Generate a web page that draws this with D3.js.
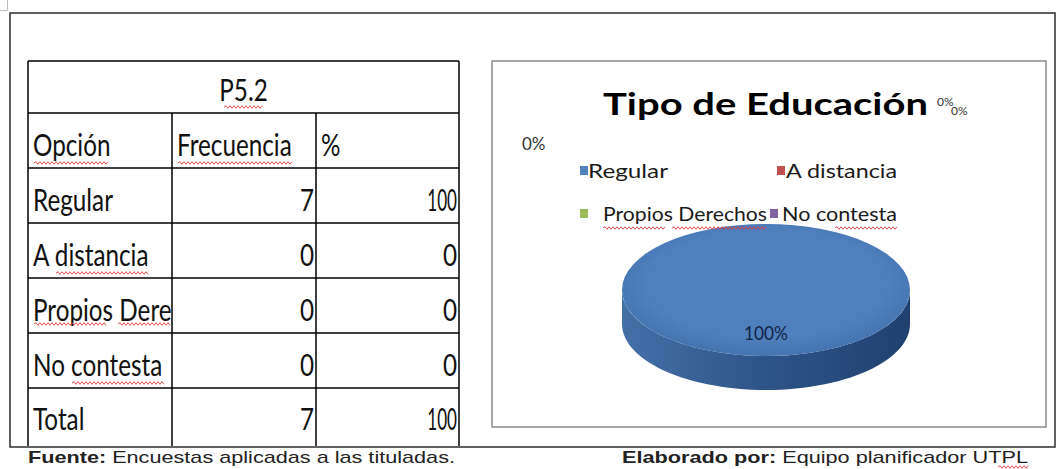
<!DOCTYPE html>
<html><head><meta charset="utf-8">
<script src="https://cdn.jsdelivr.net/npm/d3@7"></script>
<style>
html,body{margin:0;padding:0;background:#fff;}
svg{display:block;}
</style></head>
<body>
<svg id="chart" width="1057" height="469"></svg>
<script>
// ---------- data ----------
const tableTitle = "P5.2";
const tableHeaders = ["Opción", "Frecuencia", "%"];
const options = ["Regular", "A distancia", "Propios Derechos", "No contesta"];
const frequencies = [7, 0, 0, 0];
const percents = [100, 0, 0, 0];
const totalLabel = "Total";
const totalFrequency = 7;
const totalPercent = 100;
const chartTitle = "Tipo de Educación";
const colors = ["#4F81BD", "#C0504D", "#9BBB59", "#8064A2"];
const sourceBold = "Fuente:";
const sourceText = " Encuestas aplicadas a las tituladas.";
const authorBold = "Elaborado por:";
const authorText = " Equipo planificador UTPL";

// ---------- setup ----------
const svg = d3.select("#chart");
const defs = svg.append("defs");
const tableFont = "Lato, 'Open Sans', 'Liberation Sans', sans-serif";

function squiggle(x1, x2, y) {
  let d = `M${x1},${y}`;
  let up = true;
  for (let x = x1 + 2; x <= x2; x += 2) { d += ` L${x},${y + (up ? -1.3 : 1.3)}`; up = !up; }
  svg.append("path").attr("d", d).attr("fill", "none").attr("stroke", "#e03a3a").attr("stroke-width", 0.9);
}

// corner mark
svg.append("path").attr("d", "M0,10.5 H7.5 V0").attr("fill", "none").attr("stroke", "#bbb").attr("stroke-width", 1);

// outer frame
svg.append("rect").attr("x", 10).attr("y", 13).attr("width", 1045).attr("height", 434)
  .attr("fill", "none").attr("stroke", "#3a3a3a").attr("stroke-width", 1.6);

// ---------- table ----------
const colX = [28, 172, 316, 459];
const rowY = [61, 113, 168, 223, 278, 333, 388, 446];
const tg = svg.append("g");

const probe = tg.append("text").attr("font-family", tableFont).attr("font-size", 31).text("Regular");
const tScale = 80 / probe.node().getComputedTextLength();
probe.remove();

function tText(str, x, y, anchor, parent) {
  return (parent || tg).append("text")
    .attr("transform", `translate(${x},${y}) scale(${tScale},1)`)
    .attr("text-anchor", anchor || "start")
    .attr("font-family", tableFont).attr("font-size", 31).attr("fill", "#111")
    .text(str);
}
function numText(v, x, y) {
  const t = tText(String(v), x, y, "end");
  if (String(v).length > 1) t.attr("textLength", 38).attr("lengthAdjust", "spacingAndGlyphs");
  return t;
}

const lineStyle = s => s.attr("stroke", "#000").attr("stroke-width", 1.5);
rowY.forEach((y, i) => {
  if (i === rowY.length - 1) return;
  lineStyle(tg.append("line").attr("x1", colX[0]).attr("x2", colX[3]).attr("y1", y).attr("y2", y));
});
lineStyle(tg.append("line").attr("x1", colX[0]).attr("x2", colX[0]).attr("y1", rowY[0]).attr("y2", rowY[rowY.length - 1]));
lineStyle(tg.append("line").attr("x1", colX[3]).attr("x2", colX[3]).attr("y1", rowY[0]).attr("y2", rowY[rowY.length - 1]));
[colX[1], colX[2]].forEach(x =>
  lineStyle(tg.append("line").attr("x1", x).attr("x2", x).attr("y1", rowY[1]).attr("y2", rowY[rowY.length - 1])));

defs.append("clipPath").attr("id", "col1").append("rect")
  .attr("x", colX[0]).attr("y", rowY[0]).attr("width", colX[1] - colX[0] - 1).attr("height", rowY[7] - rowY[0]);
const col1 = tg.append("g").attr("clip-path", "url(#col1)");

tText(tableTitle, (colX[0] + colX[3]) / 2, 101, "middle");
squiggle(224, 262, 107);
tText(tableHeaders[0], 33, 156);
tText(tableHeaders[1], 177, 156);
tText(tableHeaders[2], 321, 156);
squiggle(34, 108, 163);
squiggle(178, 292, 163);

options.forEach((opt, i) => {
  const base = rowY[i + 3] - 12;
  tText(opt, 33, base, "start", col1);
  numText(frequencies[i], colX[2] - 2, base);
  numText(percents[i], colX[3] - 2, base);
});
squiggle(56, 148, 273);
squiggle(34, 106, 324);
squiggle(118, 171, 324);
squiggle(72, 165, 383);
tText(totalLabel, 33, 430);
numText(totalFrequency, colX[2] - 2, 430);
numText(totalPercent, colX[3] - 2, 430);

// ---------- chart box ----------
svg.append("rect").attr("x", 492).attr("y", 61).attr("width", 554).attr("height", 366)
  .attr("fill", "#fff").attr("stroke", "#8a8a8a").attr("stroke-width", 1.5);

const chartFont = "Lato, 'Open Sans', 'Liberation Sans', sans-serif";
function fitText(sel, w) { return sel.attr("textLength", w).attr("lengthAdjust", "spacingAndGlyphs"); }

fitText(svg.append("text").attr("x", 603).attr("y", 115)
  .attr("font-family", chartFont).attr("font-weight", "bold").attr("font-size", 30).attr("fill", "#000")
  .text(chartTitle), 325);

// ---------- pie ----------
const cx = 766, cy = 290, rx = 144, ry = 66, depth = 34;
const k = ry / rx;
const pie = d3.pie().sort(null).value(d => d)(percents);
const arc = d3.arc().innerRadius(0).outerRadius(rx);
const labelArc = d3.arc().innerRadius(rx * 0.65).outerRadius(rx * 0.65);

const sideGrad = defs.append("linearGradient").attr("id", "side").attr("x1", "0").attr("x2", "1").attr("y1", "0").attr("y2", "0");
sideGrad.append("stop").attr("offset", "0").attr("stop-color", "#4470a8");
sideGrad.append("stop").attr("offset", "0.5").attr("stop-color", "#2d5488");
sideGrad.append("stop").attr("offset", "1").attr("stop-color", "#20416f");
const topGrad = defs.append("radialGradient").attr("id", "topg").attr("cx", "0.5").attr("cy", "0.45").attr("r", "0.55");
topGrad.append("stop").attr("offset", "0.75").attr("stop-color", "#4f7fbd");
topGrad.append("stop").attr("offset", "1").attr("stop-color", "#4473b0");

const pg = svg.append("g").attr("transform", `translate(${cx},${cy})`);
pie.forEach((p, i) => {
  const a0 = Math.max(p.startAngle, Math.PI / 2), a1 = Math.min(p.endAngle, Math.PI * 1.5);
  if (a1 <= a0) return;
  const pts = d3.range(0, 61).map(j => a0 + (a1 - a0) * j / 60);
  const px = a => rx * Math.sin(a), py = a => -ry * Math.cos(a);
  let d = `M${px(pts[0])},${py(pts[0])}`;
  pts.forEach(a => d += ` L${px(a)},${py(a)}`);
  pts.slice().reverse().forEach(a => d += ` L${px(a)},${py(a) + depth}`);
  d += "Z";
  pg.append("path").attr("d", d).attr("fill", i === 0 ? "url(#side)" : d3.color(colors[i]).darker(0.8));
});
pie.forEach((p, i) => {
  if (p.endAngle - p.startAngle <= 0) return;
  pg.append("path").attr("d", arc(p)).attr("transform", `scale(1,${k})`)
    .attr("fill", i === 0 ? "url(#topg)" : colors[i]);
});

const zeroPos = [[522, 150, 17], [937, 106, 12], [951, 115, 12]];
let z = 0;
pie.forEach((p, i) => {
  const txt = `${percents[i]}%`;
  if (percents[i] > 0) {
    const [lx, ly] = labelArc.centroid(p);
    fitText(pg.append("text").attr("x", lx).attr("y", ly * k + 7).attr("text-anchor", "middle")
      .attr("font-family", chartFont).attr("font-size", 20).attr("fill", "#132447").text(txt), 44);
  } else {
    const [zx, zy, fs] = zeroPos[z++];
    svg.append("text").attr("x", zx).attr("y", zy).attr("font-family", chartFont)
      .attr("font-size", fs).attr("fill", "#333").text(txt);
  }
});

// ---------- legend ----------
const legendPos = [[580, 178, 588, 80], [777, 178, 786, 111], [580, 221, 603, 164], [770, 221, 782, 115]];
options.forEach((opt, i) => {
  const [sx, by, tx, w] = legendPos[i];
  svg.append("rect").attr("x", sx).attr("y", by - 12).attr("width", 8).attr("height", 9).attr("fill", colors[i]);
  fitText(svg.append("text").attr("x", tx).attr("y", by).attr("font-family", chartFont)
    .attr("font-size", 19).attr("fill", "#1a1a1a").text(opt), w);
});
squiggle(603, 666, 228);
squiggle(672, 767, 228);
squiggle(835, 897, 228);

// ---------- footer ----------
const footFont = "'Liberation Sans', Arial, sans-serif";
const f1 = svg.append("text").attr("x", 28).attr("y", 463).attr("font-family", footFont).attr("font-size", 17).attr("fill", "#222");
f1.append("tspan").attr("font-weight", "bold").text(sourceBold);
f1.append("tspan").text(sourceText);
fitText(f1, 427);
const f2 = svg.append("text").attr("x", 622).attr("y", 463).attr("font-family", footFont).attr("font-size", 17).attr("fill", "#222");
f2.append("tspan").attr("font-weight", "bold").text(authorBold);
f2.append("tspan").text(authorText);
fitText(f2, 406);
squiggle(998, 1028, 467);
</script>
</body></html>
